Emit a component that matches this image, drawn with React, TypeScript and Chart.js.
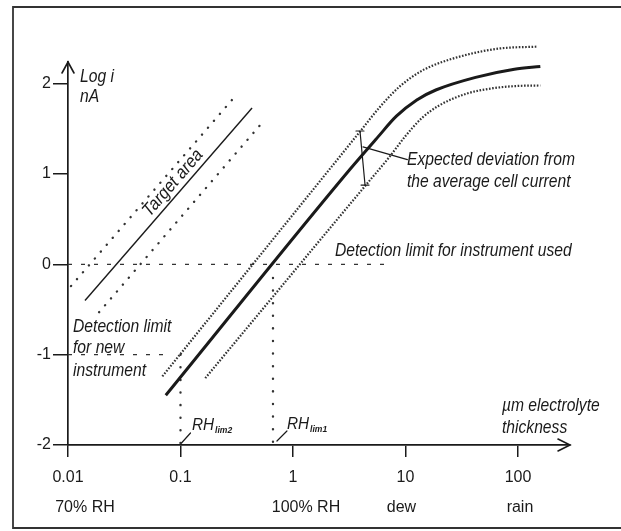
import { useEffect, useRef } from "react";
import { Chart, registerables } from "chart.js";

Chart.register(...registerables);

// ---------- data ----------
const xTickValues = [0.01, 0.1, 1, 10, 100];
const xTickLabels = ["0.01", "0.1", "1", "10", "100"];
const xTickSubLabels = ["70% RH", "", "100% RH", "dew", "rain"];
const yTickValues = [-2, -1, 0, 1, 2];

// average cell current (solid)
const meanX = [0.074, 3.2, 5.6, 8.3, 12.6, 18.6, 42, 93, 158];
const meanY = [-1.45, 1.05, 1.4, 1.64, 1.82, 1.93, 2.07, 2.16, 2.19];
// upper deviation (dotted)
const upperX = [0.069, 4.0, 5.9, 8.9, 13, 17.4, 35, 69, 148];
const upperY = [-1.24, 1.48, 1.74, 1.97, 2.12, 2.2, 2.32, 2.39, 2.41];
// lower deviation (dotted)
const lowerX = [0.166, 4.6, 7.1, 10, 14, 20, 35, 60, 100, 158];
const lowerY = [-1.26, 0.9, 1.18, 1.42, 1.62, 1.76, 1.89, 1.95, 1.975, 1.98];

// target area lines
const targetX = [0.01416, 0.4325];
const targetY = [-0.4, 1.73];
const targetUpperX = [0.01064, 0.287];
const targetUpperY = [-0.24, 1.82];
const targetLowerX = [0.0189, 0.509];
const targetLowerY = [-0.53, 1.54];

// detection limits
const detUsedX = [0.01, 7.6];
const detUsedY = [0, 0];
const detNewX = [0.01, 0.076];
const detNewY = [-1, -1];
const rhLim2X = [0.1, 0.1];
const rhLim2Y = [-1, -2];
const rhLim1X = [0.664, 0.664];
const rhLim1Y = [-0.15, -2];

// expected deviation bar and its leader
const errBarX = [3.94, 4.37];
const errBarY = [1.476, 0.878];
const leaderX = [4.19, 10.4];
const leaderY = [1.3, 1.16];

const INK = "#1a1a1a";
const SANS = "'Liberation Sans', Arial, sans-serif";
const ITALIC = `italic 18px ${SANS}`;

const pts = (xs: number[], ys: number[]) => xs.map((x, i) => ({ x, y: ys[i] }));

function drawText(
  ctx: CanvasRenderingContext2D,
  s: string,
  x: number,
  y: number,
  opts: { align?: CanvasTextAlign; baseline?: CanvasTextBaseline; rot?: number; sx?: number; font?: string } = {}
) {
  ctx.save();
  ctx.translate(x, y);
  if (opts.rot) ctx.rotate(opts.rot);
  ctx.scale(opts.sx ?? 0.87, 1);
  ctx.font = opts.font ?? ITALIC;
  ctx.textAlign = opts.align ?? "left";
  ctx.textBaseline = opts.baseline ?? "alphabetic";
  ctx.fillStyle = INK;
  ctx.fillText(s, 0, 0);
  ctx.restore();
}

const framePlugin = {
  id: "frame",
  beforeDraw(chart: any) {
    const ctx = chart.ctx as CanvasRenderingContext2D;
    ctx.save();
    ctx.fillStyle = "#fff";
    ctx.fillRect(0, 0, chart.width, chart.height);
    ctx.strokeStyle = "#333";
    ctx.lineWidth = 1.8;
    ctx.beginPath();
    ctx.moveTo(chart.width, 7);
    ctx.lineTo(13, 7);
    ctx.lineTo(13, 528);
    ctx.lineTo(chart.width, 528);
    ctx.stroke();
    ctx.restore();
  },
};

const notesPlugin = {
  id: "notes",
  afterDatasetsDraw(chart: any) {
    const ctx = chart.ctx as CanvasRenderingContext2D;
    const xs = chart.scales.x;
    const ys = chart.scales.y;
    const X = (v: number) => xs.getPixelForValue(v);
    const Y = (v: number) => ys.getPixelForValue(v);
    const area = chart.chartArea;

    ctx.save();
    ctx.strokeStyle = INK;
    ctx.lineCap = "round";

    // axis arrows
    ctx.lineWidth = 1.6;
    ctx.beginPath();
    ctx.moveTo(area.left - 6, area.top + 11);
    ctx.lineTo(area.left, area.top);
    ctx.lineTo(area.left + 6, area.top + 11);
    ctx.moveTo(area.right - 12, area.bottom - 6);
    ctx.lineTo(area.right, area.bottom);
    ctx.lineTo(area.right - 12, area.bottom + 6);
    ctx.stroke();

    // error bar
    ctx.lineWidth = 1.2;
    const ex0 = X(errBarX[0]), ey0 = Y(errBarY[0]);
    const ex1 = X(errBarX[1]), ey1 = Y(errBarY[1]);
    ctx.beginPath();
    ctx.moveTo(ex0, ey0);
    ctx.lineTo(ex1, ey1);
    ctx.moveTo(ex0 - 4, ey0);
    ctx.lineTo(ex0 + 4, ey0);
    ctx.moveTo(ex1 - 4, ey1);
    ctx.lineTo(ex1 + 4, ey1);
    ctx.stroke();

    // leader
    ctx.beginPath();
    ctx.moveTo(X(leaderX[0]), Y(leaderY[0]));
    ctx.lineTo(X(leaderX[1]), Y(leaderY[1]));
    ctx.stroke();

    // RH slashes
    const s2x = X(rhLim2X[1]), s2y = Y(rhLim2Y[1]);
    const s1x = X(0.72), s1y = Y(-2);
    ctx.beginPath();
    ctx.moveTo(s2x + 1, s2y - 2);
    ctx.lineTo(s2x + 10, s2y - 12);
    ctx.moveTo(s1x, s1y - 4);
    ctx.lineTo(s1x + 10, s1y - 14);
    ctx.stroke();
    ctx.restore();

    // texts
    drawText(ctx, "Log i", X(0.0128), Y(2.02));
    drawText(ctx, "nA", X(0.0128), Y(1.8));

    const ang = Math.atan2(Y(targetY[1]) - Y(targetY[0]), X(targetX[1]) - X(targetX[0]));
    drawText(ctx, "Target area", X(0.0858), Y(0.9), { align: "center", baseline: "middle", rot: ang, sx: 0.9 });

    drawText(ctx, "Expected deviation from", X(10.3), Y(1.1));
    drawText(ctx, "the average cell current", X(10.3), Y(0.856));
    drawText(ctx, "Detection limit for instrument used", X(2.36), Y(0.092));
    drawText(ctx, "Detection limit", X(0.01108), Y(-0.749));
    drawText(ctx, "for new", X(0.01108), Y(-0.982));
    drawText(ctx, "instrument", X(0.01108), Y(-1.236));
    drawText(ctx, "\u00b5m electrolyte", X(72), Y(-1.624));
    drawText(ctx, "thickness", X(72), Y(-1.867));

    // RH labels with subscripts
    const rh = (x: number, y: number, sub: string) => {
      ctx.save();
      ctx.font = `italic 17px ${SANS}`;
      const w = ctx.measureText("RH").width * 0.9;
      ctx.restore();
      drawText(ctx, "RH", x, y, { font: `italic 17px ${SANS}`, sx: 0.9 });
      drawText(ctx, sub, x + w + 1, y + 3, { font: `italic bold 9px ${SANS}`, sx: 0.95 });
    };
    rh(X(0.1265), Y(-1.834), "lim2");
    rh(X(0.885), Y(-1.823), "lim1");

    // second row of x tick labels
    const subOffsets = [17, 0, 13, -4, 2];
    xTickValues.forEach((v, i) => {
      if (!xTickSubLabels[i]) return;
      drawText(ctx, xTickSubLabels[i], X(v) + subOffsets[i], 512, {
        font: `16px ${SANS}`,
        align: "center",
        sx: 1,
      });
    });
  },
};

export default function App() {
  const ref = useRef<HTMLCanvasElement>(null);

  useEffect(() => {
    const canvas = ref.current;
    if (!canvas) return;
    const base = { showLine: true, pointRadius: 0, pointHoverRadius: 0, borderColor: INK, fill: false, clip: false };
    const chart = new Chart(canvas, {
      type: "scatter",
      data: {
        datasets: [
          { ...base, data: pts(meanX, meanY), borderWidth: 3, cubicInterpolationMode: "monotone" },
          { ...base, data: pts(upperX, upperY), borderWidth: 2.2, borderDash: [1.6, 1.6], borderColor: "#333", cubicInterpolationMode: "monotone" },
          { ...base, data: pts(lowerX, lowerY), borderWidth: 2.2, borderDash: [1.6, 1.6], borderColor: "#333", cubicInterpolationMode: "monotone" },
          { ...base, data: pts(targetX, targetY), borderWidth: 1.4 },
          { ...base, data: pts(targetUpperX, targetUpperY), borderWidth: 2.4, borderDash: [0.1, 9], borderCapStyle: "round", borderColor: "#333" },
          { ...base, data: pts(targetLowerX, targetLowerY), borderWidth: 2.4, borderDash: [0.1, 9], borderCapStyle: "round", borderColor: "#333" },
          { ...base, data: pts(detUsedX, detUsedY), borderWidth: 1.3, borderDash: [4, 9], borderColor: "#333" },
          { ...base, data: pts(detNewX, detNewY), borderWidth: 1.3, borderDash: [4, 9], borderColor: "#333" },
          { ...base, data: pts(rhLim2X, rhLim2Y), borderWidth: 2.4, borderDash: [0.1, 12.5], borderCapStyle: "round", borderColor: "#333" },
          { ...base, data: pts(rhLim1X, rhLim1Y), borderWidth: 2.4, borderDash: [0.1, 12.5], borderCapStyle: "round", borderColor: "#333" },
        ] as any,
      },
      options: {
        responsive: false,
        animation: false,
        devicePixelRatio: 1,
        layout: { padding: { left: 13, top: 62, right: 51, bottom: 0 } },
        plugins: { legend: { display: false }, tooltip: { enabled: false } },
        scales: {
          x: {
            type: "logarithmic",
            min: 0.01,
            max: 290,
            afterBuildTicks: (s: any) => {
              s.ticks = xTickValues.map((value) => ({ value }));
            },
            afterFit: (s: any) => {
              s.height = 86;
            },
            ticks: {
              autoSkip: false,
              maxRotation: 0,
              padding: 11,
              color: INK,
              font: { family: SANS, size: 16 },
              callback: (_v: any, i: number) => xTickLabels[i] ?? "",
            },
            grid: { drawOnChartArea: false, drawTicks: true, tickLength: 12, color: INK, lineWidth: 1.5 },
            border: { display: true, color: INK, width: 1.7 },
          },
          y: {
            type: "linear",
            min: -2,
            max: 2.24,
            afterBuildTicks: (s: any) => {
              s.ticks = yTickValues.map((value) => ({ value }));
            },
            afterFit: (s: any) => {
              s.width = 55;
            },
            ticks: {
              padding: 2,
              color: INK,
              font: { family: SANS, size: 16 },
              callback: (v: any) => String(v),
            },
            grid: { drawOnChartArea: false, drawTicks: true, tickLength: 15, color: INK, lineWidth: 1.5 },
            border: { display: true, color: INK, width: 1.7 },
          },
        },
      } as any,
      plugins: [framePlugin, notesPlugin],
    });
    return () => chart.destroy();
  }, []);

  return (
    <div style={{ position: "fixed", left: 0, top: 0, width: 621, height: 531, background: "#fff" }}>
      <canvas ref={ref} width={621} height={531} style={{ display: "block", width: 621, height: 531 }} />
    </div>
  );
}
